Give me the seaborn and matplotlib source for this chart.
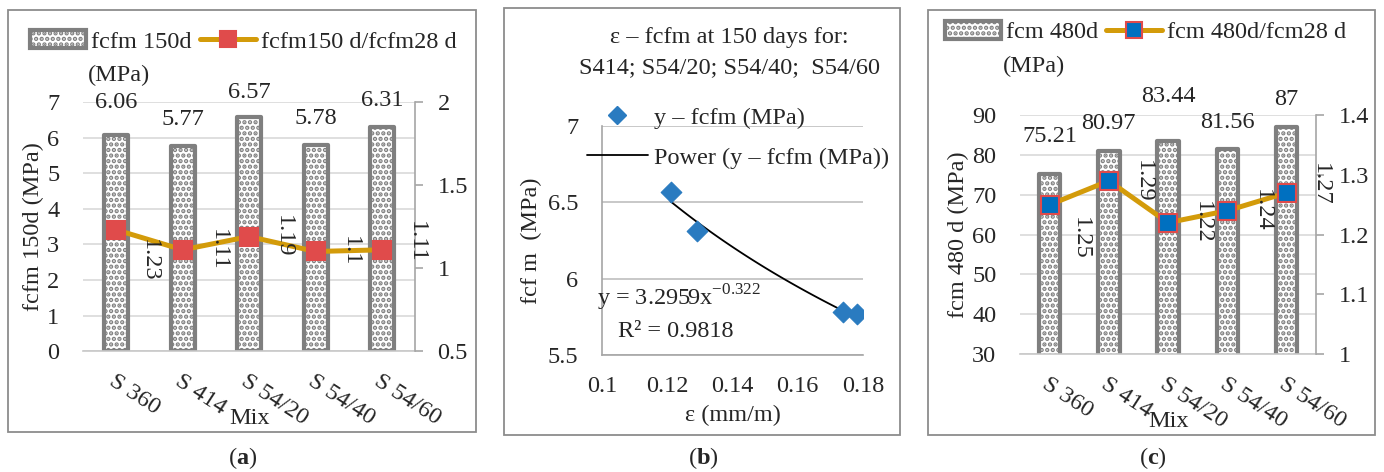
import numpy as np
import pandas as pd
import matplotlib
matplotlib.use('Agg')
import matplotlib.pyplot as plt
import seaborn as sns
from matplotlib.patches import Rectangle, Patch
from matplotlib.lines import Line2D
from matplotlib.ticker import FuncFormatter, FixedLocator

# data
mixes = ['S 360', 'S 414', 'S 54/20', 'S 54/40', 'S 54/60']
fcfm_150 = [6.06, 5.77, 6.57, 5.78, 6.31]
ratio_150 = [1.23, 1.11, 1.19, 1.1, 1.11]
fcm_480 = [75.21, 80.97, 83.44, 81.56, 87]
ratio_480 = [1.25, 1.29, 1.22, 1.24, 1.27]
strain = [0.121, 0.129, 0.174, 0.178]
fcfm_pts = [6.57, 6.31, 5.78, 5.77]
fit_a, fit_b = 3.2959, -0.322
fit_r2 = 0.9818

sns.set_theme(style='white')
plt.rcParams['font.family'] = ['Liberation Serif', 'DejaVu Serif']
plt.rcParams['mathtext.fontset'] = 'custom'
plt.rcParams['mathtext.rm'] = 'Liberation Serif'
plt.rcParams['mathtext.bf'] = 'Liberation Serif:bold'
plt.rcParams['hatch.linewidth'] = 2.2

FS = 17.5
BAR_EDGE = '#7f7f7f'
LINE_C = '#D39B0A'
RED = '#E04B4B'
BLUE = '#0070C0'
GRID = '#d9d9d9'

fig = plt.figure(figsize=(13.84, 4.72), dpi=100)

# panel frames
for rect in [(0.0058, 0.085, 0.338, 0.894), (0.364, 0.078, 0.286, 0.905), (0.6705, 0.078, 0.323, 0.900)]:
    fig.patches.append(Rectangle(rect[:2], rect[2], rect[3], transform=fig.transFigure,
                                 fill=False, edgecolor='#8c8c8c', lw=1.3))


def bar_line_panel(pos, vals, ratios, ylim, yticks, rlim, rticks, ylabel, bar_lab, line_lab,
                   mfc, mec, bar_offs, line_offs, leg_xy):
    ax = fig.add_axes(pos)
    df = pd.DataFrame({'mix': mixes, 'val': vals, 'ratio': ratios})
    sns.barplot(data=df, x='mix', y='val', ax=ax, color='white', width=0.36,
                edgecolor=BAR_EDGE, linewidth=3, hatch='...', saturation=1)
    for p in ax.patches:
        p.set_joinstyle('round')
    ax.set_ylim(*ylim)
    ax.set_yticks(yticks)
    ax.set_xlim(-0.5, 4.5)
    ax.yaxis.grid(True, color=GRID, lw=1.2)
    ax.set_axisbelow(True)
    for s in ['left', 'top', 'right']:
        ax.spines[s].set_visible(False)
    ax.spines['bottom'].set_color('#c8c8c8')
    ax.spines['bottom'].set_linewidth(1.2)
    ax.tick_params(axis='y', length=0, pad=17, labelsize=FS)
    ax.tick_params(axis='x', which='major', length=0, pad=14, labelsize=FS)
    ax.xaxis.set_minor_locator(FixedLocator(np.arange(-0.5, 5, 1)))
    ax.tick_params(axis='x', which='minor', length=9, width=1.2, color='#c8c8c8', direction='out')
    for t in ax.get_xticklabels():
        t.set_rotation(-33)
        t.set_ha('left')
        t.set_va('top')
        t.set_rotation_mode('anchor')
    ax.set_xlabel('Mix', fontsize=FS, labelpad=-15)
    ax.set_ylabel(ylabel, fontsize=FS, labelpad=2)
    for i, v in enumerate(vals):
        ax.annotate(f'{v:g}', (i, v), xytext=(0, bar_offs[i]), textcoords='offset points',
                    ha='center', va='center', fontsize=FS)

    ax2 = ax.twinx()
    sns.pointplot(data=df, x='mix', y='ratio', ax=ax2, color=LINE_C, markers='s',
                  linewidth=3.6, markersize=13, markerfacecolor=mfc, markeredgecolor=mec,
                  markeredgewidth=1.5)
    ax2.set_ylim(*rlim)
    ax2.set_yticks(rticks)
    ax2.yaxis.set_major_formatter(FuncFormatter(lambda v, _: f'{v:g}'))
    ax2.set_xlim(-0.5, 4.5)
    ax2.set_ylabel('')
    ax2.set_xlabel('')
    for s in ['left', 'top', 'bottom']:
        ax2.spines[s].set_visible(False)
    ax2.spines['right'].set_color('#a6a6a6')
    ax2.spines['right'].set_linewidth(1.2)
    ax2.tick_params(axis='y', length=6, width=1.2, color='#a6a6a6', direction='out', pad=10, labelsize=FS)
    for i, r in enumerate(ratios):
        ax2.annotate(f'{r:g}', (i, r), xytext=line_offs[i], textcoords='offset points',
                     ha='center', va='center', rotation=270, fontsize=FS)

    handles = [Patch(facecolor='white', edgecolor=BAR_EDGE, linewidth=3, hatch='...'),
               Line2D([], [], color=LINE_C, lw=3.6, marker='s', markersize=12,
                      markerfacecolor=mfc, markeredgecolor=mec, markeredgewidth=1.5)]
    fig.legend(handles, [bar_lab, line_lab], loc='center left', bbox_to_anchor=leg_xy,
               ncol=2, frameon=False, fontsize=FS, handlelength=2.3, handleheight=0.75,
               handletextpad=0.2, columnspacing=0.35, borderaxespad=0, borderpad=0)
    fig.text(leg_xy[0] + 0.042, leg_xy[1] - 0.072, '(MPa)', fontsize=FS, ha='left', va='center')
    return ax


bar_line_panel([0.060, 0.256, 0.240, 0.528], fcfm_150, ratio_150, (0, 7), range(0, 8),
               (0.5, 2), [0.5, 1, 1.5, 2], 'fcfm 150d (MPa)', 'fcfm 150d', 'fcfm150 d/fcfm28 d',
               RED, RED, [24, 19, 18, 19, 19],
               [(24, -22), (26, 0), (25, 0), (25, 0), (25, 6)], (0.0217, 0.912))

bar_line_panel([0.737, 0.250, 0.214, 0.506], fcm_480, ratio_480, (30, 90), range(30, 100, 10),
               (1, 1.4), [1, 1.1, 1.2, 1.3, 1.4], 'fcm 480 d (MPa)', 'fcm 480d', 'fcm 480d/fcm28 d',
               BLUE, RED, [27, 20, 32, 19, 20],
               [(22, -24), (25, 0), (25, 0), (25, 0), (24, 6)], (0.6828, 0.932))

# panel (b)
axb = fig.add_axes([0.435, 0.248, 0.1886, 0.485])
pts = pd.DataFrame({'eps': strain, 'fcfm': fcfm_pts})
sns.scatterplot(data=pts, x='eps', y='fcfm', ax=axb, marker='D', s=110, color='#2A7BC0',
                edgecolor='#2A7BC0', zorder=3, legend=False)
xs = np.linspace(min(strain), max(strain), 60)
fit = pd.DataFrame({'eps': xs, 'fcfm': fit_a * xs ** fit_b})
sns.lineplot(data=fit, x='eps', y='fcfm', ax=axb, color='black', lw=1.3, zorder=2, legend=False)
axb.set_xlim(0.1, 0.18)
axb.set_ylim(5.5, 7)
axb.set_xticks([0.1, 0.12, 0.14, 0.16, 0.18])
axb.set_yticks([5.5, 6, 6.5, 7])
axb.xaxis.set_major_formatter(FuncFormatter(lambda v, _: f'{v:g}'))
axb.yaxis.set_major_formatter(FuncFormatter(lambda v, _: f'{v:g}'))
axb.yaxis.grid(True, color='#bfbfbf', lw=1.2)
axb.set_axisbelow(True)
for s in ['top', 'right']:
    axb.spines[s].set_visible(False)
for s in ['left', 'bottom']:
    axb.spines[s].set_color('#a6a6a6')
    axb.spines[s].set_linewidth(1.2)
axb.tick_params(axis='both', length=6, width=1.2, color='#a6a6a6', direction='out', labelsize=FS)
axb.tick_params(axis='x', pad=9)
axb.tick_params(axis='y', pad=11)
axb.set_xlabel('\u03b5 (mm/m)', fontsize=FS, labelpad=6)
axb.set_ylabel('fcf m  (MPa)', fontsize=FS, labelpad=4)
fig.text(0.527, 0.921, '\u03b5 \u2013 fcfm at 150 days for:', fontsize=FS, ha='center', va='center')
fig.text(0.527, 0.856, 'S414; S54/20; S54/40;  S54/60', fontsize=FS, ha='center', va='center')
hb = [Line2D([], [], ls='none', marker='D', markersize=9, color='#2A7BC0'),
      Line2D([], [], color='black', lw=1.3)]
fig.legend(hb, ['y \u2013 fcfm (MPa)', 'Power (y \u2013 fcfm (MPa))'], loc='upper left',
           bbox_to_anchor=(0.424, 0.774), frameon=False, fontsize=FS, handlelength=2.5,
           handletextpad=0.25, labelspacing=0.75, borderaxespad=0, borderpad=0)
axb.text(0.0985, 5.875, 'y = 3.2959x$^{-0.322}$', fontsize=FS, ha='left', va='center')
fig.text(0.4465, 0.297, f'R\u00b2 = {fit_r2}', fontsize=FS, ha='left', va='center')

# panel captions
for x, lab in [(0.1756, 'a'), (0.508, 'b'), (0.833, 'c')]:
    fig.text(x, 0.030, '(' + '$\\mathbf{' + lab + '}$' + ')', fontsize=FS, ha='center', va='center')

fig.savefig('out.png', dpi=100)
